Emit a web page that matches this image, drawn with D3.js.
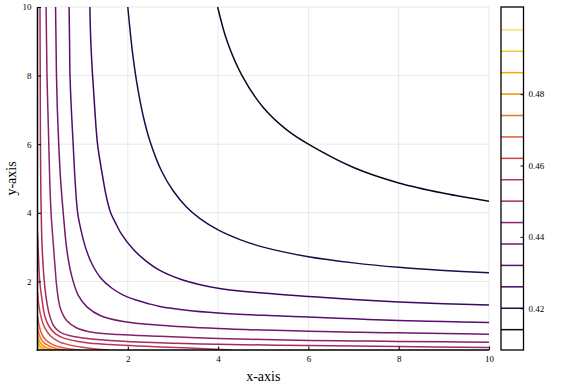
<!DOCTYPE html>
<html>
<head>
<meta charset="utf-8">
<script src="https://cdn.jsdelivr.net/npm/d3@7"></script>
<style>
  html, body { margin: 0; padding: 0; background: #ffffff; }
  svg { display: block; }
  text { font-family: "Liberation Serif", "Times New Roman", serif; fill: #000; }
</style>
</head>
<body>
<svg id="chart" width="581" height="388"></svg>
<script>
// ---------------- data ----------------
const xTicks = [2, 4, 6, 8, 10];
const yTicks = [2, 4, 6, 8, 10];
const colorbarTicks = [0.42, 0.44, 0.46, 0.48];
const colorbarRange = [0.4083, 0.5044];
const contourLevels = [0.414, 0.420, 0.426, 0.432, 0.438, 0.444, 0.450, 0.456,
                       0.462, 0.468, 0.474, 0.480, 0.486, 0.492, 0.498];

// contour lines, one array of [x, y] points per level
const contour414 = [[3.99,10],[4.2,9.0],[4.53,8.0],[5,7.07],[5.5,6.44],[6,6.0],[7,5.32],[8,4.87],[9,4.57],[10,4.34]];
const contour420 = [[2.0,10],[2.1,8.72],[2.2,7.79],[2.35,6.77],[2.5,6.05],[2.75,5.21],[3.0,4.65],[3.3,4.17],[3.6,3.83],[4,3.5],[4.5,3.21],[5,3.0],[6,2.72],[7,2.54],[8,2.41],[9,2.32],[10,2.25]];
const contour426 = [[1.16,10],[1.18,9],[1.22,8],[1.27,7],[1.33,6],[1.45,5],[1.52,4.5],[1.62,4],[1.73,3.7],[1.85,3.4],[2.13,2.92],[2.4,2.6],[2.71,2.32],[3.2,2.05],[4,1.8],[5,1.66],[6,1.56],[7,1.47],[8,1.4],[9,1.35],[10,1.31]];
const contour432 = [[0.70,10],[0.71,9],[0.72,8],[0.75,7],[0.79,6],[0.83,5],[0.89,4],[0.98,3.4],[1.08,2.92],[1.21,2.5],[1.4,2.1],[1.65,1.8],[1.9,1.6],[2.2,1.45],[2.46,1.35],[2.71,1.27],[3.3,1.16],[4,1.08],[5,1.01],[6,0.96],[7,0.91],[8,0.86],[9,0.83],[10,0.80]];
const contour438 = [[0.40,10],[0.41,9],[0.42,8],[0.44,7],[0.47,6],[0.51,5],[0.57,4],[0.65,2.92],[0.75,2.2],[0.9,1.6],[1.1,1.25],[1.4,1.0],[1.9,0.83],[2.71,0.72],[4,0.625],[5,0.58],[6,0.55],[7,0.52],[8,0.50],[9,0.48],[10,0.46]];
const contour444 = [[0.19,10],[0.2,9],[0.21,8],[0.23,7],[0.25,6],[0.27,5],[0.30,4],[0.36,2.92],[0.39,2.4],[0.43,1.8],[0.51,1.2],[0.65,0.85],[0.86,0.65],[1.2,0.52],[1.8,0.45],[2.71,0.40],[4,0.335],[5,0.305],[6,0.28],[7,0.265],[8,0.25],[9,0.237],[10,0.227]];
const contour450 = [[0.055,10],[0.06,8],[0.065,6],[0.075,4.5],[0.09,3.5],[0.11,2.8],[0.15,2.0],[0.2,1.45],[0.27,1.0],[0.36,0.7],[0.5,0.52],[0.7,0.42],[1.0,0.35],[1.6,0.28],[2.71,0.21],[4,0.165],[6,0.13],[8,0.10],[10,0.075]];
const contour456 = [[0,3.4],[0.02,2.8],[0.05,2.0],[0.1,1.47],[0.16,1.0],[0.25,0.7],[0.4,0.47],[0.6,0.34],[1.05,0.22],[1.6,0.16],[2.2,0.12],[2.71,0.09],[3.5,0.05],[4.3,0]];
const contour462 = [[0,1.7],[0.03,1.3],[0.08,0.95],[0.16,0.65],[0.28,0.42],[0.45,0.26],[0.7,0.15],[1.0,0.08],[1.3,0.03],[1.6,0]];
const contour468 = [[0,1.0],[0.03,0.75],[0.07,0.55],[0.13,0.38],[0.22,0.25],[0.35,0.15],[0.52,0.08],[0.72,0.03],[0.95,0]];
const contour474 = [[0,0.65],[0.03,0.48],[0.07,0.34],[0.13,0.23],[0.22,0.14],[0.33,0.08],[0.46,0.03],[0.6,0]];
const contour480 = [[0,0.42],[0.03,0.3],[0.07,0.2],[0.13,0.12],[0.2,0.07],[0.29,0.03],[0.38,0]];
const contour486 = [[0,0.27],[0.03,0.18],[0.07,0.11],[0.12,0.06],[0.18,0.025],[0.24,0]];
const contour492 = [[0,0.16],[0.03,0.1],[0.07,0.05],[0.11,0.02],[0.14,0]];
const contour498 = [[0,0.08],[0.03,0.045],[0.05,0.02],[0.07,0]];

const contourPoints = [contour414, contour420, contour426, contour432, contour438,
  contour444, contour450, contour456, contour462, contour468, contour474,
  contour480, contour486, contour492, contour498];

// ---------------- layout ----------------
const svg = d3.select("#chart");
const plot = { left: 37.5, right: 489, top: 7, bottom: 350 };
const cb = { left: 501, right: 523.5, top: 7, bottom: 350 };

const x = d3.scaleLinear().domain([0, 10]).range([plot.left, plot.right]);
const y = d3.scaleLinear().domain([0, 10]).range([plot.bottom, plot.top]);
const cbScale = d3.scaleLinear().domain(colorbarRange).range([cb.bottom, cb.top]);
const color = v => d3.interpolateInferno((v - colorbarRange[0]) / (colorbarRange[1] - colorbarRange[0]));

svg.append("rect").attr("width", 581).attr("height", 388).attr("fill", "#fff");

// grid
const grid = svg.append("g").attr("stroke", "#000").attr("stroke-opacity", 0.1).attr("stroke-width", 0.9);
grid.selectAll("line.gx").data(xTicks).join("line")
  .attr("x1", d => x(d)).attr("x2", d => x(d)).attr("y1", plot.top).attr("y2", plot.bottom);
grid.selectAll("line.gy").data(yTicks).join("line")
  .attr("y1", d => y(d)).attr("y2", d => y(d)).attr("x1", plot.left).attr("x2", plot.right);

// contours
svg.append("clipPath").attr("id", "clip").append("rect")
  .attr("x", plot.left).attr("y", plot.top)
  .attr("width", plot.right - plot.left).attr("height", plot.bottom - plot.top);

const line = d3.line().x(d => x(d[0])).y(d => y(d[1])).curve(d3.curveCatmullRom.alpha(0.5));
const contourData = contourLevels.map((lv, i) => ({ level: lv, pts: contourPoints[i] }));
svg.append("g").attr("clip-path", "url(#clip)")
  .selectAll("path").data(contourData).join("path")
  .attr("d", d => line(d.pts))
  .attr("fill", "none")
  .attr("stroke", d => color(d.level))
  .attr("stroke-width", 1.5);

// axes
const xAxis = d3.axisBottom(x).tickValues(xTicks).tickSize(-3.5).tickPadding(6);
const gx = svg.append("g").attr("transform", `translate(0,${plot.bottom})`).call(xAxis);
gx.select(".domain").remove();
gx.selectAll(".tick line").attr("stroke", "#000").attr("stroke-width", 1);
gx.selectAll(".tick text").attr("font-size", 9).attr("font-family", "Liberation Serif, serif").attr("fill", "#000");

const yAxis = d3.axisLeft(y).tickValues(yTicks).tickSize(-3.5).tickPadding(6);
const gy = svg.append("g").attr("transform", `translate(${plot.left},0)`).call(yAxis);
gy.select(".domain").remove();
gy.selectAll(".tick line").attr("stroke", "#000").attr("stroke-width", 1);
gy.selectAll(".tick text").attr("font-size", 9).attr("font-family", "Liberation Serif, serif").attr("fill", "#000");

svg.append("line").attr("x1", plot.left).attr("x2", plot.left)
  .attr("y1", plot.top).attr("y2", plot.bottom + 0.75)
  .attr("stroke", "#000").attr("stroke-width", 1.5);
svg.append("line").attr("x1", plot.left - 0.75).attr("x2", plot.right)
  .attr("y1", plot.bottom).attr("y2", plot.bottom)
  .attr("stroke", "#000").attr("stroke-width", 1.5);

// axis titles
svg.append("text").attr("x", (plot.left + plot.right) / 2).attr("y", 381)
  .attr("text-anchor", "middle").attr("font-size", 14).text("x-axis");
svg.append("text").attr("transform", `translate(16,${(plot.top + plot.bottom) / 2}) rotate(-90)`)
  .attr("text-anchor", "middle").attr("font-size", 14).text("y-axis");

// colorbar
const cbg = svg.append("g");
cbg.selectAll("line.lv").data(contourLevels).join("line")
  .attr("x1", cb.left).attr("x2", cb.right)
  .attr("y1", d => cbScale(d)).attr("y2", d => cbScale(d))
  .attr("stroke", d => color(d)).attr("stroke-width", 1.5);
cbg.append("rect").attr("x", cb.left).attr("y", cb.top)
  .attr("width", cb.right - cb.left).attr("height", cb.bottom - cb.top)
  .attr("fill", "none").attr("stroke", "#000").attr("stroke-width", 1.3);
const cbAxis = d3.axisRight(cbScale).tickValues(colorbarTicks).tickSize(-3).tickPadding(5)
  .tickFormat(d3.format(".2f"));
const gcb = svg.append("g").attr("transform", `translate(${cb.right},0)`).call(cbAxis);
gcb.select(".domain").remove();
gcb.selectAll(".tick line").attr("stroke", "#000").attr("stroke-width", 1);
gcb.selectAll(".tick text").attr("font-size", 9).attr("font-family", "Liberation Serif, serif").attr("fill", "#000");
</script>
</body>
</html>
